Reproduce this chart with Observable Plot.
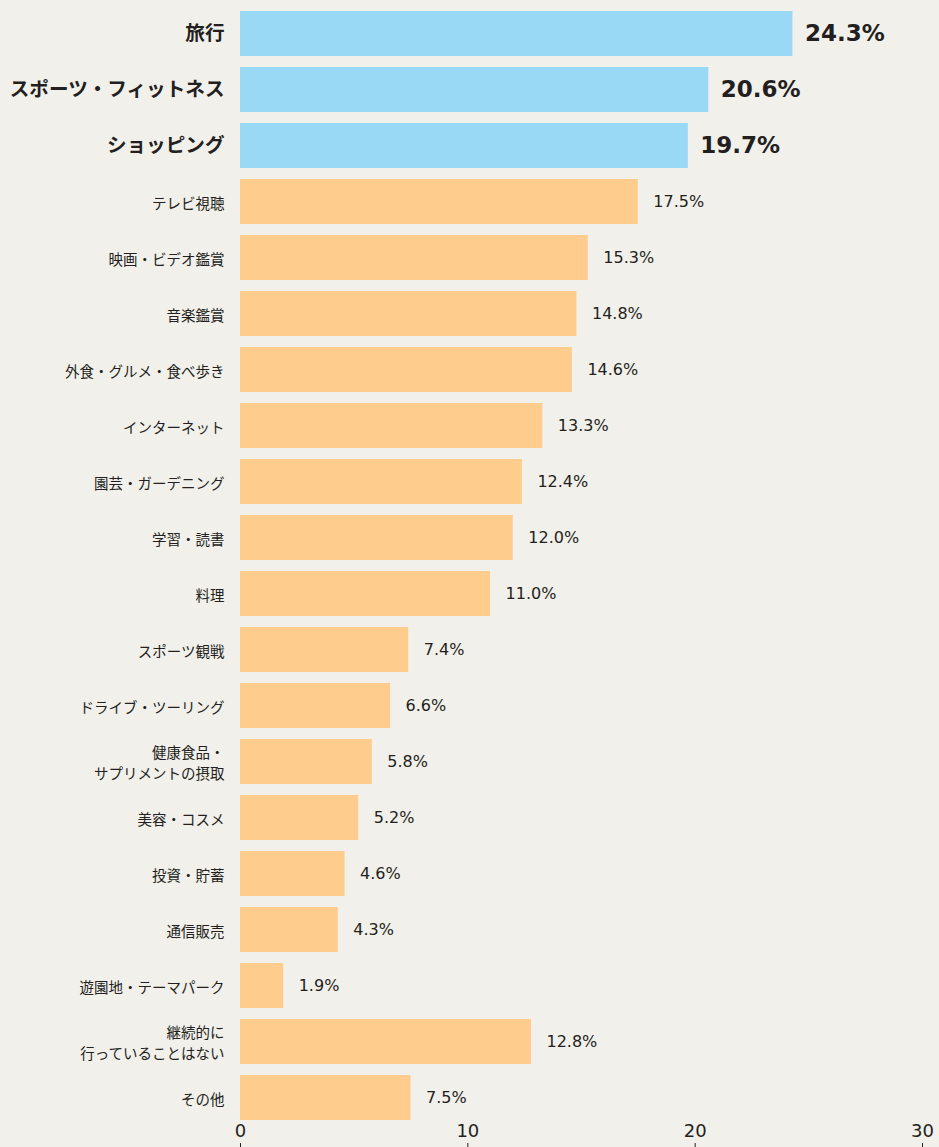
<!DOCTYPE html>
<html>
<head>
<meta charset="utf-8">
<script src="https://cdn.jsdelivr.net/npm/d3@7"></script>
<script src="https://cdn.jsdelivr.net/npm/@observablehq/plot@0.6"></script>
<style>
  html, body { margin: 0; padding: 0; background: #f2f0eb; }
  #chart svg { display: block; background: #f2f0eb; }
</style>
</head>
<body>
<div id="chart"></div>
<script>
const categories = [
  "旅行",
  "スポーツ・フィットネス",
  "ショッピング",
  "テレビ視聴",
  "映画・ビデオ鑑賞",
  "音楽鑑賞",
  "外食・グルメ・食べ歩き",
  "インターネット",
  "園芸・ガーデニング",
  "学習・読書",
  "料理",
  "スポーツ観戦",
  "ドライブ・ツーリング",
  "健康食品・\nサプリメントの摂取",
  "美容・コスメ",
  "投資・貯蓄",
  "通信販売",
  "遊園地・テーマパーク",
  "継続的に\n行っていることはない",
  "その他"
];
const values = [24.3, 20.6, 19.7, 17.5, 15.3, 14.8, 14.6, 13.3, 12.4, 12.0, 11.0, 7.4, 6.6, 5.8, 5.2, 4.6, 4.3, 1.9, 12.8, 7.5];
const highlighted = [true, true, true, false, false, false, false, false, false, false, false, false, false, false, false, false, false, false, false, false];
const xTicks = [0, 10, 20, 30];

const data = categories.map((c, i) => ({cat: c, value: values[i], top: highlighted[i]}));
const topData = data.filter(d => d.top);
const restData = data.filter(d => !d.top);

const numFont = "'DejaVu Sans', 'Liberation Sans', sans-serif";
const jpFont = "'Noto Sans CJK JP', sans-serif";

const chart = Plot.plot({
  width: 939,
  height: 1147,
  marginLeft: 240,
  marginRight: 17,
  marginTop: 0,
  marginBottom: 16,
  style: {background: "#f2f0eb", fontFamily: numFont, color: "#231f20", overflow: "visible"},
  x: {domain: [0, 30], axis: null},
  y: {domain: categories, padding: 0.196, axis: null},
  marks: [
    Plot.barX(data, {
      y: "cat", x: "value",
      fill: d => d.top ? "#9ad9f6" : "#fecd8d"
    }),
    // category labels
    Plot.text(topData, {
      y: "cat", x: 0, text: "cat", dx: -16, textAnchor: "end",
      fontSize: 19.6, fontWeight: "bold", fill: "#231f20", fontFamily: jpFont
    }),
    Plot.text(restData, {
      y: "cat", x: 0, text: "cat", dx: -16, textAnchor: "end",
      fontSize: 14.5, fill: "#231f20", fontFamily: jpFont, lineHeight: 1.45
    }),
    // value labels
    Plot.text(topData, {
      y: "cat", x: "value", text: d => d.value.toFixed(1) + "%", dx: 12, textAnchor: "start",
      fontSize: 23, fontWeight: "bold", fill: "#231f20", fontFamily: numFont
    }),
    Plot.text(restData, {
      y: "cat", x: "value", text: d => d.value.toFixed(1) + "%", dx: 15, textAnchor: "start",
      fontSize: 16, fill: "#231f20", fontFamily: numFont
    }),
    // x axis: labels above small ticks
    Plot.text(xTicks, {
      x: d => d, frameAnchor: "bottom", dy: 5, text: d => String(d),
      fontSize: 18, fill: "#231f20", fontFamily: numFont
    }),
    Plot.axisX({
      ticks: xTicks, tickSize: 4, tickFormat: () => "", dy: 12, stroke: "#231f20", label: null
    })
  ]
});
document.getElementById("chart").appendChild(chart);
</script>
</body>
</html>
